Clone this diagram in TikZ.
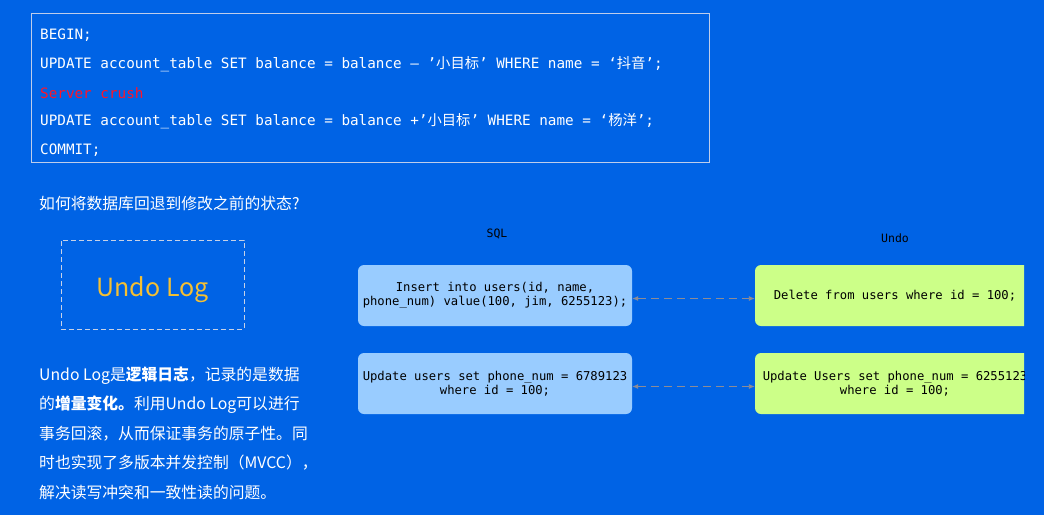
\documentclass[tikz,border=0pt]{standalone}
\usepackage{fontspec}
\setmainfont{Noto Sans CJK SC}
\newfontfamily\cjk{Noto Sans CJK SC}
\newfontfamily\codefont{DejaVu Sans Mono}
\newfontfamily\boxfont{DejaVu Sans Mono}
\usetikzlibrary{arrows.meta}
\definecolor{bg}{RGB}{0,99,229}
\definecolor{frame}{RGB}{190,205,235}
\definecolor{dashc}{RGB}{200,210,230}
\definecolor{sqlfill}{RGB}{153,204,255}
\definecolor{undofill}{RGB}{204,255,136}
\definecolor{arrc}{RGB}{140,140,150}
\definecolor{logo}{RGB}{245,192,50}
\definecolor{crush}{RGB}{255,20,40}
\newcommand{\zh}[1]{{\cjk\fontsize{14.3}{16}\selectfont #1}}
\begin{document}
\begin{tikzpicture}[x=1pt,y=-1pt,
  codeline/.style={anchor=west,inner sep=0pt,text=white,font=\codefont\fontsize{14.3}{16}\selectfont},
  para/.style={anchor=west,inner sep=0pt,text=white,font=\fontsize{15.8}{20}\selectfont},
  sqlbox/.style={fill=sqlfill,rounded corners=6pt,minimum width=274pt,minimum height=61pt,inner sep=0pt,align=center,font=\boxfont\fontsize{12.2}{14}\selectfont,text=black},
  undobox/.style={fill=undofill,rounded corners=6pt,minimum width=280pt,minimum height=61pt,inner sep=0pt,align=center,font=\boxfont\fontsize{12.2}{14}\selectfont,text=black},
  head/.style={inner sep=0pt,font=\boxfont\fontsize{11.5}{14}\selectfont,text=black},
  link/.style={draw=arrc,line width=0.9pt,dash pattern=on 8pt off 5pt,{Latex[length=6pt,width=5pt]}-{Latex[length=6pt,width=5pt]}}
]
\fill[bg] (0,0) rectangle (1044,515);
\useasboundingbox (0,0) rectangle (1044,515);

% code box
\node[draw=frame,line width=1.2pt,minimum width=678pt,minimum height=149pt,anchor=north west,inner sep=0pt] (code) at (31,13) {};
\node[codeline] (c1) at (40,35) {BEGIN;};
\node[codeline] (c2) at (40,64) {UPDATE account\_table SET balance = balance – ’\zh{小目标}’ WHERE name = ‘\zh{抖音}’;};
\node[codeline,text=crush] (c3) at (40,93) {Server crush};
\node[codeline] (c4) at (40,121) {UPDATE account\_table SET balance = balance +’\zh{小目标}’ WHERE name = ‘\zh{杨洋}’;};
\node[codeline] (c5) at (40,150) {COMMIT;};

% question
\node[anchor=west,inner sep=0pt,text=white,font=\fontsize{15.8}{18}\selectfont] (q) at (39,203) {如何将数据库回退到修改之前的状态?};

% undo log box
\node[draw=dashc,line width=1pt,dash pattern=on 5pt off 3pt,minimum width=183pt,minimum height=89pt,inner sep=0pt,text=logo,font=\fontsize{25}{30}\selectfont] (undo) at (152.5,284.5) {\raisebox{-11.5pt}[0pt][0pt]{Undo Log}};

% paragraph
\node[para] (p1) at (39,376) {Undo Log是\textbf{逻辑日志}，记录的是数据};
\node[para] (p2) at (39,405) {的\textbf{增量变化。}利用Undo Log可以进行};
\node[para] (p3) at (39,434) {事务回滚，从而保证事务的原子性。同};
\node[para] (p4) at (39,463) {时也实现了多版本并发控制（MVCC），};
\node[para] (p5) at (39,492) {解决读写冲突和一致性读的问题。};

% headers
\node[head] (hsql) at (497,234) {SQL};
\node[head] (hundo) at (895,238) {Undo};

% sql boxes
\node[sqlbox] (s1) at (495,295.5) {Insert into users(id, name,\\phone\_num) value(100, jim, 6255123);};
\node[sqlbox] (s2) at (495,383.5) {Update users set phone\_num = 6789123\\where id = 100;};

% undo boxes (cut at right)
\begin{scope}
\clip (700,200) rectangle (1024,440);
\node[undobox] (u1) at (895,295.5) {Delete from users where id = 100;};
\node[undobox] (u2) at (895,383.5) {Update Users set phone\_num = 6255123\\where id = 100;};
\end{scope}

% links
\draw[link] ([yshift=-3pt]s1.east) -- ([yshift=-3pt]u1.west);
\draw[link] ([yshift=-3pt]s2.east) -- ([yshift=-3pt]u2.west);
\end{tikzpicture}
\end{document}
